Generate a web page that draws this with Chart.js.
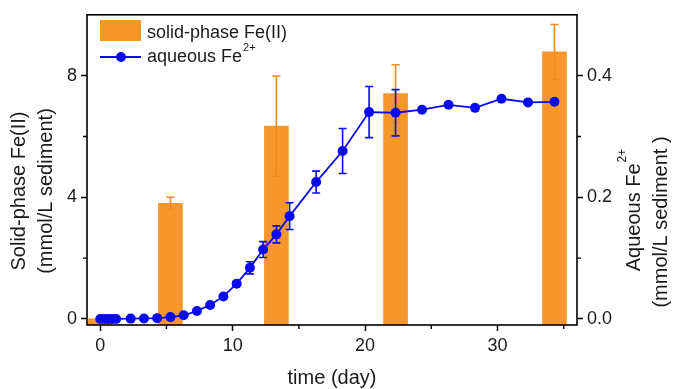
<!DOCTYPE html>
<html><head><meta charset="utf-8">
<script src="https://cdn.jsdelivr.net/npm/chart.js@4/dist/chart.umd.min.js"></script>
<style>html,body{margin:0;padding:0;background:#fff;}#wrap{width:673px;height:389px;}</style>
</head><body><div id="wrap"><canvas id="c" width="673" height="389"></canvas></div>
<script>
// ---- data ----
const solidDays = [0, 5.3, 13.3, 22.3, 34.3];
const solidFe   = [0, 3.8, 6.34, 7.41, 8.78];
const solidErr  = [0, 0.2, 1.65, 0.95, 0.9];

const aqDays = [0, 0.3, 0.6, 0.9, 1.2, 2.3, 3.3, 4.3, 5.3, 6.3, 7.3, 8.3, 9.3, 10.3, 11.3, 12.3, 13.3, 14.3, 16.3, 18.3, 20.3, 22.3, 24.3, 26.3, 28.3, 30.3, 32.3, 34.3];
const aqFe   = [0, 0, 0, 0, 0, 0.0005, 0.0008, 0.0013, 0.003, 0.006, 0.013, 0.023, 0.037, 0.058, 0.084, 0.114, 0.139, 0.169, 0.225, 0.276, 0.34, 0.339, 0.344, 0.352, 0.347, 0.362, 0.356, 0.357];
const aqErr  = [0, 0, 0, 0, 0, 0, 0, 0, 0, 0, 0, 0, 0, 0.003, 0.01, 0.013, 0.014, 0.022, 0.018, 0.037, 0.042, 0.038, 0, 0, 0, 0, 0, 0];

const xTicks = [0, 10, 20, 30];
const xMinor = [5, 15, 25, 35];
const leftTicks = [0, 4, 8];
const leftMinor = [2, 6];
const rightTicks = [0.0, 0.2, 0.4];
const rightMinor = [0.1, 0.3];

const legendSolid = 'solid-phase Fe(II)';
const legendAq = 'aqueous Fe';
const sup = '2+';
const xTitle = 'time (day)';
const leftTitle = ['Solid-phase Fe(II)', '(mmol/L sediment)'];
const rightTitle = ['Aqueous Fe', '(mmol/L sediment )'];

// ---- styling ----
const FONT = "'Liberation Sans', Arial, sans-serif";
const ORANGE = '#F8962E';
const ORANGE_ERR = '#F08A1E';
const BLUE = '#0A0AF0';
const INK = '#1a1a1a';
const X_MIN = -1, X_MAX = 36, L_MIN = -0.2, L_MAX = 10, R_MIN = -0.01, R_MAX = 0.5;

const errorBars = {
  id: 'errorBars',
  afterDatasetDraw(chart, args) {
    const ctx = chart.ctx, xs = chart.scales.x;
    let ys, days, vals, errs, color;
    if (args.index === 0) { ys = chart.scales.y; days = solidDays; vals = solidFe; errs = solidErr; color = ORANGE_ERR; }
    else { ys = chart.scales.y2; days = aqDays; vals = aqFe; errs = aqErr; color = BLUE; }
    ctx.save();
    ctx.strokeStyle = color; ctx.lineWidth = 1.6;
    days.forEach((d, i) => {
      const e = errs[i]; if (!e) return;
      const px = xs.getPixelForValue(d);
      const t = ys.getPixelForValue(vals[i] + e), b = ys.getPixelForValue(vals[i] - e);
      ctx.beginPath();
      ctx.moveTo(px, t); ctx.lineTo(px, b);
      ctx.moveTo(px - 4, t); ctx.lineTo(px + 4, t);
      ctx.moveTo(px - 4, b); ctx.lineTo(px + 4, b);
      ctx.stroke();
    });
    ctx.restore();
  }
};

const decor = {
  id: 'decor',
  afterDraw(chart) {
    const ctx = chart.ctx, a = chart.chartArea;
    const xs = chart.scales.x, yl = chart.scales.y, yr = chart.scales.y2;
    ctx.save();
    // frame
    ctx.strokeStyle = '#000'; ctx.lineWidth = 1.6;
    ctx.strokeRect(a.left, a.top, a.right - a.left, a.bottom - a.top);
    // minor ticks
    ctx.lineWidth = 1.4;
    ctx.beginPath();
    xMinor.forEach(v => { const p = xs.getPixelForValue(v); ctx.moveTo(p, a.bottom); ctx.lineTo(p, a.bottom + 4); });
    leftMinor.forEach(v => { const p = yl.getPixelForValue(v); ctx.moveTo(a.left, p); ctx.lineTo(a.left - 4, p); });
    rightMinor.forEach(v => { const p = yr.getPixelForValue(v); ctx.moveTo(a.right, p); ctx.lineTo(a.right + 4, p); });
    ctx.stroke();

    // legend
    ctx.fillStyle = ORANGE;
    ctx.fillRect(100, 20, 41, 21);
    ctx.fillStyle = INK;
    ctx.font = '18px ' + FONT;
    ctx.textBaseline = 'alphabetic'; ctx.textAlign = 'left';
    ctx.fillText(legendSolid, 147, 38);
    ctx.strokeStyle = BLUE; ctx.lineWidth = 1.8;
    ctx.beginPath(); ctx.moveTo(100, 57); ctx.lineTo(141, 57); ctx.stroke();
    ctx.fillStyle = BLUE;
    ctx.beginPath(); ctx.arc(121, 57, 5, 0, Math.PI * 2); ctx.fill();
    ctx.fillStyle = INK;
    ctx.fillText(legendAq, 147, 62);
    const w = ctx.measureText(legendAq).width;
    ctx.font = '11px ' + FONT;
    ctx.fillText(sup, 147 + w + 1, 51);

    // x title
    ctx.font = '20px ' + FONT;
    ctx.textAlign = 'center'; ctx.textBaseline = 'middle';
    ctx.fillText(xTitle, 332, 378);

    // left title
    ctx.save();
    ctx.translate(19, 191); ctx.rotate(-Math.PI / 2);
    ctx.fillText(leftTitle[0], 0, 0);
    ctx.restore();
    ctx.save();
    ctx.translate(46, 191); ctx.rotate(-Math.PI / 2);
    ctx.fillText(leftTitle[1], 0, 0);
    ctx.restore();

    // right title
    ctx.save();
    ctx.translate(634, 210); ctx.rotate(-Math.PI / 2);
    ctx.font = '20px ' + FONT;
    const w1 = ctx.measureText(rightTitle[0]).width;
    ctx.font = '12px ' + FONT;
    const w2 = ctx.measureText(sup).width;
    const start = -(w1 + w2 + 1) / 2;
    ctx.textAlign = 'left';
    ctx.font = '20px ' + FONT;
    ctx.fillText(rightTitle[0], start, 0);
    ctx.font = '12px ' + FONT;
    ctx.fillText(sup, start + w1 + 1, -11);
    ctx.restore();
    ctx.save();
    ctx.translate(661, 222); ctx.rotate(-Math.PI / 2);
    ctx.font = '20px ' + FONT;
    ctx.textAlign = 'center';
    ctx.fillText(rightTitle[1], 0, 0);
    ctx.restore();

    ctx.restore();
  }
};

const tickGrid = { drawOnChartArea: false, drawTicks: true, tickLength: 6, tickColor: '#000', tickWidth: 1.5 };
const tickFont = { family: FONT, size: 18 };

new Chart(document.getElementById('c'), {
  type: 'bar',
  data: {
    datasets: [
      {
        type: 'bar', label: legendSolid, order: 2, yAxisID: 'y',
        data: solidDays.map((d, i) => ({ x: d, y: solidFe[i] })),
        backgroundColor: ORANGE, borderWidth: 0, barThickness: 24, base: L_MIN
      },
      {
        type: 'line', label: legendAq + sup, order: 1, yAxisID: 'y2',
        data: aqDays.map((d, i) => ({ x: d, y: aqFe[i] })),
        borderColor: BLUE, backgroundColor: BLUE, borderWidth: 1.8,
        pointRadius: 5, pointBackgroundColor: BLUE, pointBorderWidth: 0, tension: 0, fill: false
      }
    ]
  },
  options: {
    responsive: false, animation: false,
    layout: { padding: { top: 11, left: 0, right: 0, bottom: 0 } },
    plugins: { legend: { display: false }, tooltip: { enabled: false } },
    scales: {
      x: {
        type: 'linear', min: X_MIN, max: X_MAX, offset: false,
        afterBuildTicks: s => { s.ticks = xTicks.map(v => ({ value: v })); },
        afterFit: s => { s.height = 64; },
        grid: Object.assign({ offset: false }, tickGrid),
        border: { display: false },
        ticks: { font: tickFont, color: INK, padding: 4, maxRotation: 0, autoSkip: false, callback: v => String(v) }
      },
      y: {
        type: 'linear', position: 'left', min: L_MIN, max: L_MAX,
        afterBuildTicks: s => { s.ticks = leftTicks.map(v => ({ value: v })); },
        afterFit: s => { s.width = 87; },
        grid: tickGrid, border: { display: false },
        ticks: { font: tickFont, color: INK, padding: 4, callback: v => String(v) }
      },
      y2: {
        type: 'linear', position: 'right', min: R_MIN, max: R_MAX,
        afterBuildTicks: s => { s.ticks = rightTicks.map(v => ({ value: v })); },
        afterFit: s => { s.width = 96; },
        grid: tickGrid, border: { display: false },
        ticks: { font: tickFont, color: INK, padding: 4, callback: v => Number(v).toFixed(1) }
      }
    }
  },
  plugins: [errorBars, decor]
});
</script>
</body></html>
